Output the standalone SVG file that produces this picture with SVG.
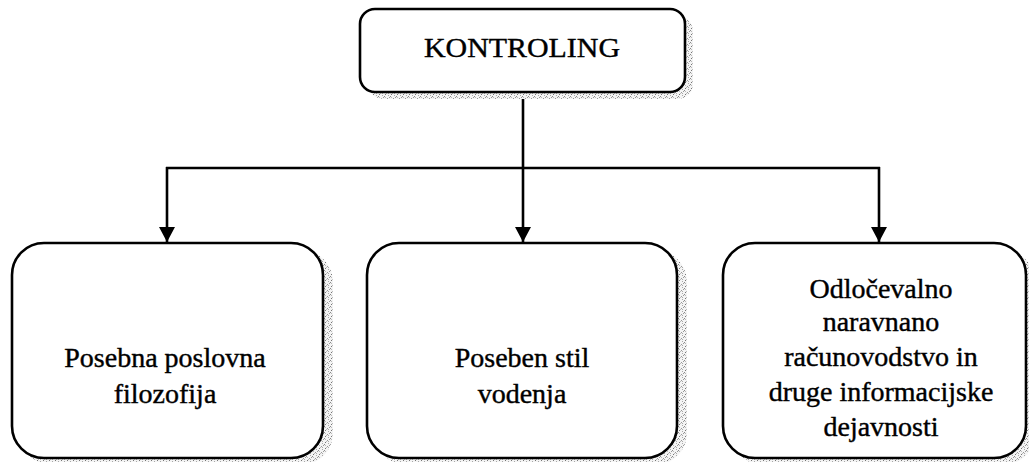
<svg xmlns="http://www.w3.org/2000/svg" width="1029" height="462" viewBox="0 0 1029 462">
<style>
.box{fill:#fff;stroke:#000;stroke-width:2.6}
.shadow{fill:url(#stip)}
.lbl{font-family:"Liberation Serif","Times New Roman",serif;font-size:28px;fill:#000;stroke:#000;stroke-width:0.4;text-anchor:middle}
.conn{fill:none;stroke:#000;stroke-width:2.6}
</style>
<defs>
<pattern id="stip" width="6" height="6" patternUnits="userSpaceOnUse">
<rect width="6" height="6" fill="#f4f4f4"/>
<rect x="0" y="0" width="1" height="1" fill="#888"/>
<rect x="3" y="2" width="1" height="1" fill="#999"/>
<rect x="1" y="4" width="1" height="1" fill="#777"/>
<rect x="4" y="5" width="1" height="1" fill="#aaa"/>
<rect x="5" y="1" width="1" height="1" fill="#999"/>
<rect x="2" y="3" width="1" height="1" fill="#bbb"/>
<rect x="4" y="3" width="1" height="1" fill="#aaa"/>
<rect x="1" y="1" width="1" height="1" fill="#bbb"/>
</pattern>
<marker id="arr" markerWidth="16" markerHeight="16" refX="15" refY="8" orient="auto" markerUnits="userSpaceOnUse">
<path d="M0,0 L15,8 L0,16 Z" fill="#000"/>
</marker>
</defs>
<g id="connectors">
<line class="conn" x1="523" y1="92" x2="523" y2="168"/>
<line class="conn" x1="166" y1="168" x2="880" y2="168"/>
<line class="conn" x1="167" y1="167" x2="167" y2="242" marker-end="url(#arr)"/>
<line class="conn" x1="523" y1="168" x2="523" y2="242" marker-end="url(#arr)"/>
<line class="conn" x1="879" y1="167" x2="879" y2="242" marker-end="url(#arr)"/>
</g>
<g id="node-kontroling">
<rect class="shadow" x="368" y="16" width="325" height="83" rx="15"/>
<rect class="box" x="360" y="9" width="325" height="83" rx="15"/>
<text class="lbl" x="522" y="57" font-size="29" textLength="196" lengthAdjust="spacingAndGlyphs">KONTROLING</text>
</g>
<g id="node-filozofija">
<rect class="shadow" x="20" y="250" width="313" height="215" rx="32"/>
<rect class="box" x="12" y="243" width="311" height="215" rx="32"/>
<text class="lbl" x="165" y="367">Posebna poslovna</text>
<text class="lbl" x="165" y="403">filozofija</text>
</g>
<g id="node-stil">
<rect class="shadow" x="375" y="250" width="312" height="215" rx="32"/>
<rect class="box" x="367" y="243" width="310" height="215" rx="32"/>
<text class="lbl" x="522" y="367">Poseben stil</text>
<text class="lbl" x="522" y="403">vodenja</text>
</g>
<g id="node-racunovodstvo">
<rect class="shadow" x="731" y="250" width="304" height="215" rx="32"/>
<rect class="box" x="723" y="243" width="303" height="215" rx="32"/>
<text class="lbl" x="881" y="298">Odločevalno</text>
<text class="lbl" x="881" y="331">naravnano</text>
<text class="lbl" x="881" y="366" font-size="29">računovodstvo in</text>
<text class="lbl" x="881" y="401" font-size="29">druge informacijske</text>
<text class="lbl" x="881" y="436">dejavnosti</text>
</g>
</svg>
